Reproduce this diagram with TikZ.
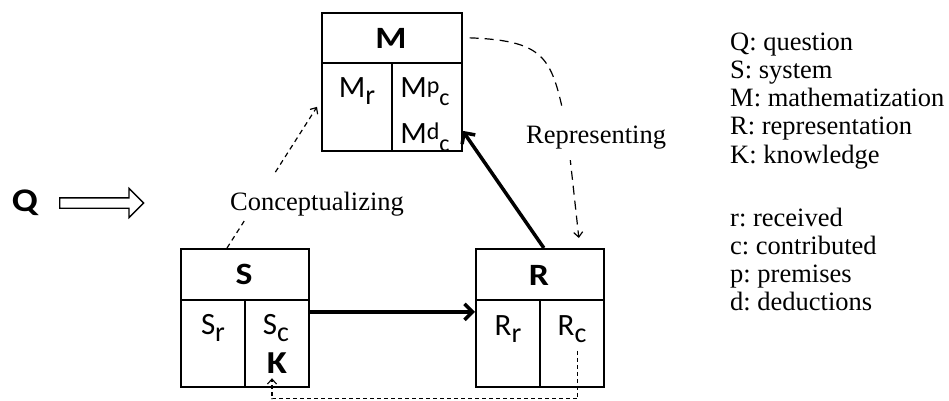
\documentclass[tikz,border=0pt]{standalone}
\usepackage{fontspec}
\setmainfont{Liberation Serif}
\setsansfont{Carlito}
\newfontfamily\boxbf[FakeStretch=1.15]{Carlito}
\usetikzlibrary{arrows.meta,shapes.arrows,calc}
\newcommand\lowsub[1]{\raisebox{-7pt}{\fontsize{28}{28}\selectfont #1}}
\newcommand\smsup[1]{\raisebox{4pt}{\fontsize{24}{24}\selectfont #1}}
\newcommand\smsub[1]{\raisebox{-8pt}{\fontsize{24}{24}\selectfont #1}}
\frenchspacing
\begin{document}
\begin{tikzpicture}[x=1pt,y=-1pt,
  cell/.style={draw,line width=1.7pt,inner sep=0pt,anchor=north west},
  hdr/.style={font=\boxbf\bfseries\fontsize{31}{31}\selectfont,anchor=base,inner sep=0pt},
  lbl/.style={font=\sffamily\fontsize{31}{31}\selectfont,anchor=base,inner sep=0pt},
  serif/.style={font=\fontsize{26.5}{28}\selectfont\frenchspacing,anchor=base west,inner sep=0pt},
  cdash/.style={line width=1.2pt,dash pattern=on 5pt off 4pt,-{Straight Barb[length=5pt,width=9pt]}},
  rdash/.style={line width=1.2pt,dash pattern=on 9pt off 6pt,-{Straight Barb[length=5pt,width=9pt]}},
  fdash/.style={line width=1.1pt,dash pattern=on 4pt off 3pt,-{Straight Barb[length=5pt,width=9pt]}},
  thickarr/.style={line width=3.5pt,-{Straight Barb[length=8pt,width=16pt]}}]
\useasboundingbox (0,0) rectangle (949,400);
% boxes
\node[cell,minimum width=140pt,minimum height=50pt] (Mh) at (321,12) {};
\node[cell,minimum width=70pt,minimum height=88pt] (Ml) at (321,62) {};
\node[cell,minimum width=70pt,minimum height=88pt] (Mc) at (391,62) {};
\node[cell,minimum width=128pt,minimum height=51pt] (Sh) at (180,248) {};
\node[cell,minimum width=64pt,minimum height=87pt] (Sl) at (180,299) {};
\node[cell,minimum width=64pt,minimum height=87pt] (Sc) at (244,299) {};
\node[cell,minimum width=128pt,minimum height=51pt] (Rh) at (475,248) {};
\node[cell,minimum width=64pt,minimum height=87pt] (Rl) at (475,299) {};
\node[cell,minimum width=64pt,minimum height=87pt] (Rc) at (539,299) {};
% texts
\node[hdr] (Mt) at (391,48) {M};
\node[lbl] (Mrt) at (357,97) {M\lowsub{r}};
\node[lbl] (Mpt) at (425,97) {M\smsup{p}\smsub{c}};
\node[lbl] (Mdt) at (425,143) {M\smsup{d}\smsub{c}};
\node[hdr] (St) at (244,284) {S};
\node[lbl] (Srt) at (213,334) {S\lowsub{r}};
\node[lbl] (Sct) at (276,334) {S\lowsub{c}};
\node[hdr,font=\boxbf\bfseries\fontsize{32}{32}\selectfont] (Kt) at (277,373) {K};
\node[hdr] (Rt) at (539,285) {R};
\node[lbl] (Rrt) at (508,335) {R\lowsub{r}};
\node[lbl] (Rct) at (572,335) {R\lowsub{c}};
% Q
\node[font=\boxbf\bfseries\fontsize{33}{33}\selectfont,anchor=base,inner sep=0pt] (Q) at (25,211) {Q};
\node[single arrow,draw,line width=1.3pt,inner sep=4.5pt,single arrow head extend=9.5pt,
  minimum height=84pt,anchor=tail] (Qa) at (59,203) {};
% connectors
\draw[cdash] ([xshift=47pt]Sh.north west) -- ([xshift=-4pt]Ml.west);
\draw[rdash] ([xshift=7pt]Mh.east) .. controls +(80,3) and +(-15,-70) .. (567,130) -- ([xshift=39pt,yshift=10pt]Rh.north);
\draw[thickarr] ([xshift=4pt]Rh.north) -- ([yshift=-24pt]Mc.east);
\draw[thickarr] ([yshift=31.5pt]Sc.east) -- ([yshift=31.5pt]Rl.west);
\draw[fdash] ([xshift=6pt,yshift=-7.5pt]Rc.center) -- ++(0,48) -| ([xshift=-5pt,yshift=-5pt]Kt.south);
% labels
\node[serif,fill=white,text height=35pt,text depth=10pt] (Clab) at (230,210) {Conceptualizing};
\node[serif,fill=white,text height=35pt,text depth=17pt] (Rlab) at (526,143) {Representing};
% legend
\foreach \t [count=\i] in {Q: question,S: system,M: mathematization,R: representation,K: knowledge}
  \node[serif] (lega\i) at (730,{50+28.25*(\i-1)}) {\t};
\foreach \t [count=\i] in {r: received,c: contributed,p: premises,d: deductions}
  \node[serif] (legb\i) at (730,{226.5+28*(\i-1)}) {\t};
\end{tikzpicture}
\end{document}
